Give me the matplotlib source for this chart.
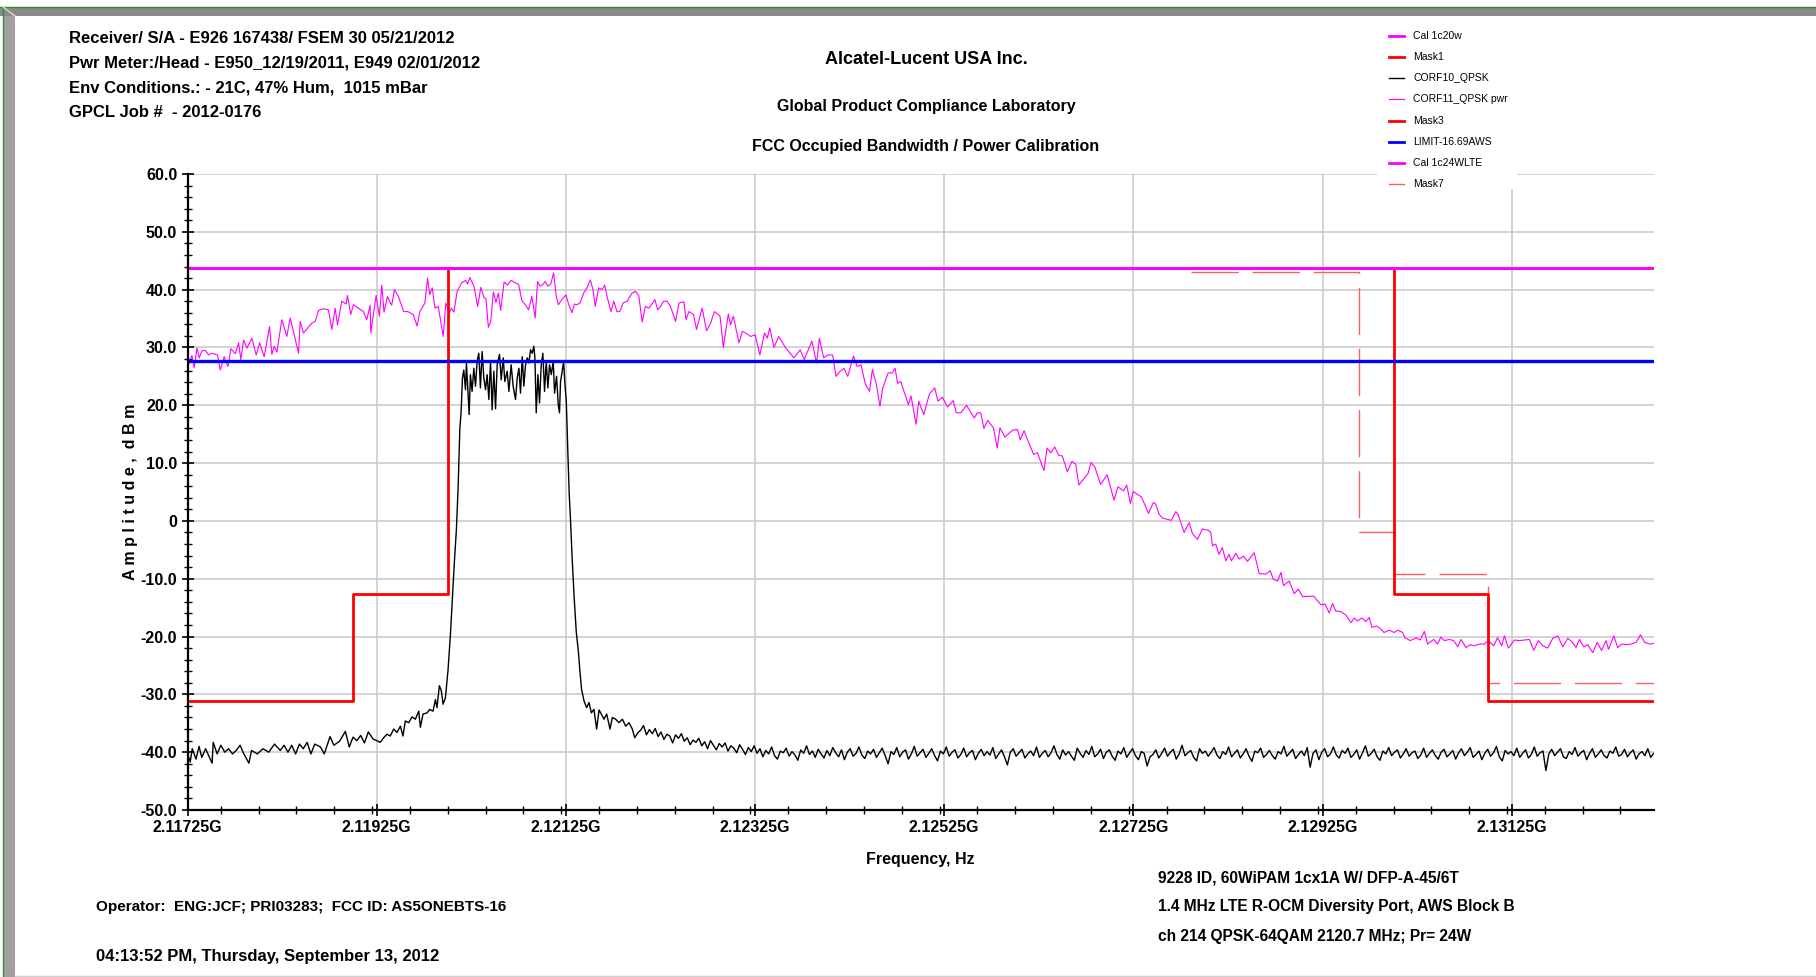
import numpy as np
import matplotlib
matplotlib.use("Agg")
import matplotlib.pyplot as plt
from matplotlib.ticker import MultipleLocator, FixedLocator, FuncFormatter
from matplotlib.patches import Rectangle
from matplotlib.lines import Line2D
from matplotlib import font_manager as fm

# ---------------------------------------------------------------- data ----
# Reference levels (dBm)
cal_20w_dbm = 43.8
cal_24w_lte_dbm = 43.8
limit_aws_dbm = 27.6

# Emission masks (frequency in MHz, level in dBm)
mask1_mhz = [2117.25, 2119.0, 2119.0, 2120.0, 2120.0, 2125.0]
mask1_dbm = [-31.1, -31.1, -12.7, -12.7, 43.8, 43.8]
mask3_mhz = [2125.0, 2130.0, 2130.0, 2131.0, 2131.0, 2132.75]
mask3_dbm = [43.8, 43.8, -12.7, -12.7, -31.1, -31.1]
mask7_mhz = [2127.86, 2129.64, 2129.64, 2130.0, 2130.0, 2131.0, 2131.0, 2132.75]
mask7_dbm = [43.0, 43.0, -2.0, -2.0, -9.1, -9.1, -28.1, -28.1]

# CORF11_QPSK pwr trace (MHz, dBm)
pwr_mhz = [
    2117.250, 2117.278, 2117.296, 2117.320, 2117.349, 2117.373, 2117.401, 2117.437, 2117.472, 2117.507,
    2117.567, 2117.595, 2117.637, 2117.676, 2117.708, 2117.754, 2117.789, 2117.813, 2117.842, 2117.877,
    2117.930, 2117.975, 2118.011, 2118.060, 2118.116, 2118.141, 2118.165, 2118.194, 2118.246, 2118.299,
    2118.335, 2118.423, 2118.440, 2118.475, 2118.563, 2118.599, 2118.634, 2118.680, 2118.739, 2118.775,
    2118.810, 2118.835, 2118.880, 2118.926, 2118.940, 2118.975, 2119.004, 2119.056, 2119.109, 2119.144,
    2119.180, 2119.187, 2119.243, 2119.278, 2119.303, 2119.327, 2119.363, 2119.408, 2119.437, 2119.479,
    2119.535, 2119.580, 2119.635, 2119.677, 2119.706, 2119.759, 2119.787, 2119.810, 2119.837, 2119.865,
    2119.900, 2119.953, 2119.980, 2120.017, 2120.040, 2120.065, 2120.100, 2120.148, 2120.190, 2120.210,
    2120.235, 2120.277, 2120.317, 2120.350, 2120.384, 2120.405, 2120.430, 2120.455, 2120.483, 2120.510,
    2120.536, 2120.560, 2120.596, 2120.632, 2120.670, 2120.713, 2120.750, 2120.784, 2120.820, 2120.855,
    2120.890, 2120.925, 2120.950, 2120.978, 2121.007, 2121.030, 2121.060, 2121.090, 2121.120, 2121.148,
    2121.170, 2121.208, 2121.250, 2121.280, 2121.314, 2121.340, 2121.367, 2121.400, 2121.437, 2121.473,
    2121.508, 2121.536, 2121.560, 2121.596, 2121.632, 2121.660, 2121.685, 2121.727, 2121.756, 2121.790,
    2121.820, 2121.855, 2121.897, 2121.950, 2121.985, 2122.020, 2122.056, 2122.090, 2122.126, 2122.155,
    2122.190, 2122.220, 2122.250, 2122.285, 2122.320, 2122.355, 2122.410, 2122.445, 2122.497, 2122.520,
    2122.550, 2122.600, 2122.630, 2122.690, 2122.737, 2122.780, 2122.820, 2122.880, 2122.914, 2122.967,
    2122.990, 2123.020, 2123.080, 2123.116, 2123.150, 2123.204, 2123.250, 2123.300, 2123.350, 2123.380,
    2123.405, 2123.450, 2123.500, 2123.575, 2123.660, 2123.727, 2123.770, 2123.850, 2123.900, 2123.930,
    2123.975, 2124.020, 2124.070, 2124.105, 2124.150, 2124.190, 2124.230, 2124.290, 2124.330, 2124.370,
    2124.415, 2124.460, 2124.490, 2124.530, 2124.570, 2124.600, 2124.657, 2124.700, 2124.730, 2124.757,
    2124.790, 2124.871, 2124.899, 2124.952, 2124.980, 2125.033, 2125.094, 2125.150, 2125.183, 2125.231,
    2125.284, 2125.345, 2125.377, 2125.426, 2125.486, 2125.567, 2125.600, 2125.636, 2125.669, 2125.709,
    2125.770, 2125.810, 2125.839, 2125.891, 2125.972, 2126.025, 2126.053, 2126.094, 2126.134, 2126.195,
    2126.235, 2126.304, 2126.337, 2126.377, 2126.418, 2126.458, 2126.499, 2126.551, 2126.600, 2126.640,
    2126.673, 2126.721, 2126.770, 2126.802, 2126.843, 2126.903, 2126.972, 2127.045, 2127.086, 2127.146,
    2127.179, 2127.219, 2127.248, 2127.337, 2127.409, 2127.462, 2127.486, 2127.520, 2127.557, 2127.603,
    2127.650, 2127.698, 2127.720, 2127.786, 2127.840, 2127.874, 2127.927, 2127.980, 2128.040, 2128.068,
    2128.086, 2128.120, 2128.156, 2128.190, 2128.227, 2128.260, 2128.287, 2128.333, 2128.367, 2128.414,
    2128.456, 2128.527, 2128.580, 2128.650, 2128.696, 2128.730, 2128.774, 2128.810, 2128.837, 2128.897,
    2128.950, 2128.993, 2129.040, 2129.155, 2129.232, 2129.275, 2129.320, 2129.356, 2129.390, 2129.444,
    2129.497, 2129.550, 2129.585, 2129.620, 2129.663, 2129.709, 2129.744, 2129.770, 2129.825, 2129.860,
    2129.900, 2129.955, 2130.008, 2130.044, 2130.097, 2130.120, 2130.178, 2130.238, 2130.283, 2130.326,
    2130.360, 2130.425, 2130.466, 2130.500, 2130.537, 2130.590, 2130.636, 2130.680, 2130.713, 2130.767,
    2130.813, 2130.848, 2130.908, 2130.960, 2131.003, 2131.060, 2131.100, 2131.144, 2131.172, 2131.215,
    2131.278, 2131.330, 2131.384, 2131.437, 2131.483, 2131.532, 2131.578, 2131.630, 2131.684, 2131.737,
    2131.790, 2131.843, 2131.885, 2131.930, 2131.966, 2132.012, 2132.054, 2132.107, 2132.153, 2132.200,
    2132.248, 2132.273, 2132.330, 2132.370, 2132.414, 2132.460, 2132.513, 2132.566, 2132.612, 2132.655,
    2132.707, 2132.750,
]
pwr_dbm = [
    26.5, 27.9, 28.6, 26.5, 29.9, 28.2, 29.4, 29.5, 28.7, 29.0,
    28.7, 26.1, 28.4, 26.7, 29.8, 28.9, 30.8, 27.9, 31.3, 29.9,
    31.6, 28.7, 30.8, 28.4, 33.6, 28.8, 30.2, 29.2, 34.8, 31.9,
    35.1, 29.0, 34.5, 32.5, 34.2, 34.5, 36.4, 36.7, 36.5, 33.1,
    36.8, 33.9, 38.0, 37.5, 39.0, 35.7, 37.4, 36.8, 36.2, 34.8,
    37.3, 32.5, 39.0, 35.4, 40.8, 36.1, 38.8, 37.3, 40.0, 38.8,
    36.2, 36.2, 35.7, 33.7, 36.2, 37.7, 42.0, 39.1, 40.3, 36.8,
    37.1, 31.9, 37.7, 36.0, 36.8, 36.1, 39.7, 41.2, 41.6, 41.0,
    42.1, 40.6, 37.1, 40.4, 38.6, 38.4, 33.5, 34.5, 39.6, 37.8,
    39.4, 36.4, 41.3, 40.8, 41.6, 41.2, 40.9, 38.1, 37.4, 36.5,
    38.8, 35.1, 41.4, 40.6, 40.9, 41.4, 40.6, 41.0, 42.9, 38.8,
    37.4, 38.3, 39.1, 37.4, 36.0, 37.5, 37.4, 37.7, 39.4, 40.3,
    41.7, 40.0, 37.1, 40.3, 40.0, 40.8, 38.8, 36.2, 38.0, 36.2,
    36.2, 37.7, 38.0, 39.4, 39.7, 39.0, 34.4, 37.1, 36.8, 37.4,
    38.3, 36.5, 37.1, 38.0, 38.0, 37.1, 34.5, 37.7, 37.9, 34.8,
    36.2, 35.7, 33.1, 36.8, 32.9, 34.2, 36.2, 35.4, 30.0, 35.8,
    33.9, 35.4, 30.8, 32.8, 32.5, 31.9, 32.2, 28.7, 32.5, 31.6,
    33.4, 30.0, 31.9, 29.9, 28.2, 29.6, 27.9, 31.1, 27.3, 31.6,
    28.2, 28.7, 28.7, 25.0, 25.9, 26.4, 25.0, 28.5, 26.7, 27.0,
    23.7, 22.4, 26.2, 23.8, 19.8, 23.0, 25.6, 25.6, 26.4, 23.8,
    24.1, 20.1, 21.6, 16.7, 20.7, 18.4, 22.0, 23.0, 20.7, 21.4,
    19.7, 20.8, 18.7, 18.7, 20.0, 17.8, 18.7, 18.7, 16.0, 17.4,
    16.1, 12.6, 16.1, 14.5, 15.7, 15.8, 14.0, 15.6, 13.9, 11.5,
    11.8, 8.7, 12.6, 11.8, 12.8, 11.4, 11.2, 8.5, 10.3, 9.8,
    6.2, 7.2, 8.2, 10.1, 9.3, 6.3, 8.0, 3.6, 5.9, 5.2,
    6.2, 3.0, 5.1, 4.1, 1.3, 3.2, 2.9, 1.2, 0.5, 0.3,
    0.1, 1.6, 1.2, -2.0, -0.3, -2.2, -3.2, -1.4, -1.6, -2.0,
    -4.3, -4.0, -5.8, -4.6, -6.9, -5.8, -6.9, -5.6, -6.6, -6.1,
    -7.0, -5.5, -9.1, -9.2, -8.6, -10.1, -10.4, -8.9, -11.2, -10.4,
    -12.6, -11.8, -13.1, -13.0, -14.5, -14.4, -15.9, -14.3, -15.6, -15.7,
    -16.3, -17.6, -16.8, -17.3, -16.8, -17.4, -16.7, -18.4, -18.2, -18.6,
    -19.3, -18.9, -19.3, -18.9, -19.3, -20.2, -20.7, -20.2, -20.6, -19.1,
    -21.3, -20.5, -21.3, -20.1, -20.7, -20.5, -20.7, -21.8, -20.5, -21.9,
    -21.4, -21.6, -21.3, -21.3, -20.7, -21.6, -20.2, -21.6, -19.9, -22.0,
    -20.6, -20.7, -20.6, -20.5, -22.4, -20.7, -21.6, -22.0, -20.3, -19.9,
    -21.8, -20.3, -20.9, -21.9, -20.5, -21.8, -21.4, -22.8, -21.0, -22.4,
    -20.7, -22.2, -19.9, -21.9, -21.3, -21.4, -21.3, -21.0, -19.7, -21.0,
    -21.3, -21.2,
]

# CORF10_QPSK trace, carrier region (MHz, dBm)
qpsk_mhz = [
    2117.250, 2117.278, 2117.299, 2117.339, 2117.371, 2117.400, 2117.440, 2117.473, 2117.509, 2117.521,
    2117.562, 2117.602, 2117.643, 2117.683, 2117.724, 2117.764, 2117.805, 2117.845, 2117.898, 2117.926,
    2117.987, 2118.048, 2118.108, 2118.169, 2118.230, 2118.270, 2118.311, 2118.351, 2118.392, 2118.432,
    2118.473, 2118.513, 2118.554, 2118.594, 2118.655, 2118.695, 2118.756, 2118.797, 2118.857, 2118.918,
    2118.959, 2118.999, 2119.039, 2119.080, 2119.120, 2119.161, 2119.210, 2119.287, 2119.323, 2119.358,
    2119.393, 2119.429, 2119.464, 2119.500, 2119.527, 2119.552, 2119.587, 2119.623, 2119.658, 2119.694,
    2119.711, 2119.739, 2119.782, 2119.810, 2119.845, 2119.870, 2119.887, 2119.912, 2119.933, 2119.951,
    2119.976, 2120.004, 2120.029, 2120.046, 2120.071, 2120.092, 2120.110, 2120.128, 2120.142, 2120.156,
    2120.170, 2120.188, 2120.198, 2120.212, 2120.227, 2120.240, 2120.258, 2120.276, 2120.294, 2120.311,
    2120.329, 2120.346, 2120.364, 2120.382, 2120.400, 2120.417, 2120.435, 2120.453, 2120.470, 2120.488,
    2120.506, 2120.523, 2120.548, 2120.566, 2120.587, 2120.604, 2120.629, 2120.647, 2120.671, 2120.692,
    2120.717, 2120.735, 2120.753, 2120.770, 2120.788, 2120.805, 2120.823, 2120.841, 2120.858, 2120.876,
    2120.894, 2120.911, 2120.922, 2120.936, 2120.954, 2120.971, 2120.989, 2121.006, 2121.024, 2121.042,
    2121.059, 2121.077, 2121.095, 2121.116, 2121.130, 2121.151, 2121.169, 2121.182, 2121.193, 2121.211,
    2121.225, 2121.239, 2121.254, 2121.271, 2121.285, 2121.299, 2121.314, 2121.335, 2121.359, 2121.381,
    2121.398, 2121.415, 2121.441, 2121.469, 2121.494, 2121.519, 2121.546, 2121.575, 2121.600, 2121.624,
    2121.652, 2121.681, 2121.716, 2121.741, 2121.776, 2121.811, 2121.847, 2121.882, 2121.917, 2121.952,
    2121.977, 2122.012,
]
qpsk_dbm = [
    -40.3, -41.7, -39.4, -41.2, -39.0, -40.9, -39.4, -40.6, -41.9, -38.3,
    -40.3, -38.8, -40.0, -39.4, -40.3, -39.7, -38.8, -40.3, -41.9, -39.7,
    -40.3, -39.4, -40.0, -38.6, -39.7, -38.8, -40.0, -38.8, -40.3, -38.6,
    -39.4, -38.3, -40.3, -38.6, -39.1, -40.3, -37.3, -38.8, -38.1, -36.4,
    -39.1, -37.4, -38.0, -37.1, -38.4, -36.5, -37.7, -38.3, -37.5, -36.9,
    -37.2, -36.0, -36.6, -35.5, -37.2, -34.6, -34.9, -33.9, -34.3, -32.9,
    -35.7, -33.4, -33.2, -32.6, -32.9, -30.9, -32.3, -28.5, -29.4, -31.7,
    -30.6, -25.7, -19.6, -14.4, -7.0, -1.5, 5.7, 15.8, 18.9, 24.7,
    26.1, 22.7, 27.3, 23.0, 18.4, 25.3, 22.4, 26.4, 23.3, 27.6,
    29.0, 23.0, 29.3, 24.7, 22.7, 25.3, 21.0, 27.6, 19.2, 25.9,
    19.4, 27.0, 28.8, 24.4, 28.2, 24.1, 25.9, 22.4, 27.0, 23.3,
    21.0, 24.7, 26.4, 22.1, 28.4, 23.3, 27.0, 28.2, 27.3, 29.6,
    29.0, 30.2, 28.2, 18.7, 25.3, 20.4, 27.0, 29.0, 22.4, 27.6,
    23.0, 27.0, 25.3, 27.6, 22.1, 25.0, 20.1, 18.7, 24.1, 25.9,
    27.6, 23.8, 20.7, 11.5, 4.6, 0.0, -5.8, -12.7, -19.1, -22.5,
    -26.0, -29.1, -31.1, -32.3, -31.4, -33.2, -32.6, -36.0, -32.7, -33.4,
    -34.3, -33.4, -36.0, -34.0, -34.3, -34.9, -34.3, -35.5, -34.9, -36.0,
    -37.5, -36.6,
]

# CORF10_QPSK trace, upper noise floor sweep (dBm), 2122.04 .. 2132.75 MHz
floor_start_mhz = 2122.04
floor_stop_mhz = 2132.75
floor_dbm = [
    -36.2, -35.4, -37.0, -36.1, -36.8, -35.9, -37.3, -36.5, -37.8, -36.9, -37.2, -38.4, -37.0, -37.6, -36.8, -38.1, -37.5, -38.7, -37.9, -38.3,
    -37.6, -38.9, -38.2, -39.4, -38.0, -38.8, -39.6, -38.5, -39.1, -38.4, -39.8, -38.9, -39.3, -40.1, -38.7, -39.5, -40.4, -39.2, -39.9, -38.9,
    -40.2, -39.4, -40.8, -39.7, -40.3, -39.1, -40.6, -41.2, -39.8, -40.1, -39.3, -40.7, -39.9, -40.5, -41.4, -39.6, -40.2, -38.9, -40.4, -39.8,
    -40.9, -39.5, -40.3, -41.0, -39.7, -40.6, -39.2, -40.1, -40.8, -39.6, -41.3, -40.0, -39.4, -40.7, -40.2, -39.1, -40.5, -41.1, -39.8, -40.3,
    -39.5, -40.9, -40.1, -39.3, -40.6, -42.0, -39.9, -40.4, -39.2, -40.8, -40.0, -39.6, -41.2, -40.3, -39.0, -40.7, -40.1, -39.5, -40.9, -40.2,
    -39.4, -40.6, -41.5, -39.8, -40.3, -39.1, -40.7, -40.0, -39.6, -41.0, -40.4, -39.3, -40.8, -40.1, -39.7, -41.3, -40.2, -39.5, -40.6, -39.9,
    -40.5, -39.2, -41.1, -40.3, -39.6, -40.8, -42.2, -40.0, -39.4, -40.7, -40.1, -39.5, -41.0, -40.3, -39.8, -40.6, -39.1, -40.9, -40.2, -39.7,
    -40.8, -40.1, -38.9, -40.4, -41.2, -39.6, -40.5, -39.9, -40.7, -41.4, -39.3, -40.2, -40.9, -39.7, -40.4, -39.0, -40.8, -40.3, -39.5, -41.1,
    -40.0, -39.6, -40.7, -41.4, -39.8, -40.3, -39.2, -40.9, -40.1, -39.4, -40.6, -41.3, -39.9, -40.2, -42.4, -40.8, -40.4, -39.6, -41.0, -40.2,
    -39.3, -40.7, -40.0, -39.5, -41.2, -40.3, -38.8, -40.6, -40.1, -39.7, -40.9, -41.5, -39.4, -40.2, -39.8, -40.7, -40.0, -39.2, -40.5, -41.1,
    -39.9, -40.4, -39.1, -40.8, -40.2, -39.6, -41.0, -40.3, -39.4, -40.7, -41.6, -39.8, -40.1, -39.3, -40.9, -40.4, -39.7, -40.6, -41.2, -39.9,
    -40.3, -39.0, -40.7, -40.1, -39.5, -41.1, -40.4, -39.8, -40.6, -39.2, -42.6, -40.2, -39.6, -41.3, -40.0, -39.4, -40.8, -40.3, -39.1, -40.5,
    -41.0, -39.7, -40.2, -39.3, -40.9, -40.4, -39.6, -41.2, -40.1, -38.9, -40.7, -40.2, -39.5, -40.8, -41.4, -39.8, -40.3, -39.2, -40.6, -40.0,
    -39.6, -41.0, -40.3, -39.4, -40.7, -40.1, -39.8, -41.1, -40.5, -39.3, -40.9, -40.2, -39.6, -40.6, -41.2, -40.0, -39.5, -40.8, -40.3, -39.7,
    -41.2, -40.1, -39.4, -40.6, -40.0, -39.2, -40.9, -40.4, -39.8, -41.3, -40.2, -39.5, -40.7, -40.1, -39.0, -40.8, -41.5, -39.7, -40.3, -39.9,
    -40.6, -39.3, -40.9, -40.2, -39.6, -41.0, -40.4, -39.1, -40.7, -40.1, -39.8, -43.2, -40.3, -39.5, -40.6, -40.0, -39.4, -40.8, -41.1, -39.9,
    -40.4, -39.2, -40.7, -40.1, -39.7, -41.3, -40.2, -39.4, -40.9, -40.3, -39.6, -40.6, -41.0, -39.8, -40.2, -39.1, -40.7, -40.4, -39.5, -40.8,
    -40.1, -39.6, -41.2, -40.3, -39.9, -40.6, -39.4, -40.9, -40.2,
]

x_tick_mhz = [2117.25, 2119.25, 2121.25, 2123.25, 2125.25, 2127.25, 2129.25, 2131.25]

header_lines = [
    "Receiver/ S/A - E926 167438/ FSEM 30 05/21/2012",
    "Pwr Meter:/Head - E950_12/19/2011, E949 02/01/2012",
    "Env Conditions.: - 21C, 47% Hum,  1015 mBar",
    "GPCL Job #  - 2012-0176",
]
title_lines = [
    "Alcatel-Lucent USA Inc.",
    "Global Product Compliance Laboratory",
    "FCC Occupied Bandwidth / Power Calibration",
]
setup_lines = [
    "9228 ID, 60WiPAM 1cx1A W/ DFP-A-45/6T",
    "1.4 MHz LTE R-OCM Diversity Port, AWS Block B",
    "ch 214 QPSK-64QAM 2120.7 MHz; Pr= 24W",
]
operator_line = "Operator:  ENG:JCF; PRI03283;  FCC ID: AS5ONEBTS-16"
stamp_line = "04:13:52 PM, Thursday, September 13, 2012"

# --------------------------------------------------------------- figure ---
W, H = 1816, 977
plt.rcParams["font.family"] = ["Liberation Sans", "DejaVu Sans"]
installed = {f.name for f in fm.fontManager.ttflist}
small_family = ["Liberation Sans Narrow", "Liberation Sans"] if "Liberation Sans Narrow" in installed else ["Liberation Sans"]

fig = plt.figure(figsize=(W / 100, H / 100), dpi=100)
fig.patch.set_facecolor("white")


def fx(px):
    return px / W


def fy(py):
    return 1 - py / H


# window border: grey bars on top and left, thin green edge, light bottom rule
fig.add_artist(Rectangle((fx(0), fy(16)), 1, 9 / H, transform=fig.transFigure,
                         facecolor="#8a8a8a", edgecolor="none", zorder=1))
fig.add_artist(Rectangle((fx(3), fy(H)), 12 / W, 1 - 16 / H, transform=fig.transFigure,
                         facecolor="#a0a0a0", edgecolor="none", zorder=1))
fig.add_artist(Line2D([0, 1], [fy(6.5), fy(6.5)], transform=fig.transFigure,
                      color="#2f8f2f", lw=1.0, zorder=2))
fig.add_artist(Line2D([fx(3), fx(3)], [fy(6.5), 0], transform=fig.transFigure,
                      color="#2f8f2f", lw=1.0, zorder=2))
fig.add_artist(Line2D([fx(3), fx(15)], [fy(7), fy(16)], transform=fig.transFigure,
                      color="#d8d8d8", lw=1.0, zorder=2))
fig.add_artist(Line2D([fx(15), 1], [fy(975.5), fy(975.5)], transform=fig.transFigure,
                      color="#d0d0d0", lw=1.0, zorder=2))

ax = fig.add_axes([fx(187.6), fy(810), fx(1653.6) - fx(187.6), fy(174) - fy(810)])
ax.set_xlim(2117.25, 2132.75)
ax.set_ylim(-50, 60)

# grid
ax.grid(True, which="major", color="#c8c8c8", lw=1.1, zorder=0)
ax.set_axisbelow(True)

# traces
qpsk_f = np.concatenate([qpsk_mhz, np.linspace(floor_start_mhz, floor_stop_mhz, len(floor_dbm))])
qpsk_y = np.concatenate([qpsk_dbm, floor_dbm])
l_qpsk, = ax.plot(qpsk_f, qpsk_y, color="black", lw=1.0, zorder=3, label="CORF10_QPSK")
l_pwr, = ax.plot(pwr_mhz, pwr_dbm, color="#ff00ff", lw=0.8, zorder=3, label="CORF11_QPSK pwr")

# masks and limit lines
l_m7, = ax.plot(mask7_mhz, mask7_dbm, color="#ff5c5c", lw=1.0, dashes=(34, 10), zorder=4, label="Mask7")
l_m1, = ax.plot(mask1_mhz, mask1_dbm, color="#ff0000", lw=2.0, zorder=5, label="Mask1")
l_m3, = ax.plot(mask3_mhz, mask3_dbm, color="#ff0000", lw=2.0, zorder=5, label="Mask3")
l_lim = ax.axhline(limit_aws_dbm, color="#0000ff", lw=2.4, zorder=6, label="LIMIT-16.69AWS")
l_c20 = ax.axhline(cal_20w_dbm, color="#ff00ff", lw=2.0, zorder=6, label="Cal 1c20w")
l_c24 = ax.axhline(cal_24w_lte_dbm, color="#ff00ff", lw=2.0, zorder=6, label="Cal 1c24WLTE")

# axes styling
for side in ("top", "right"):
    ax.spines[side].set_visible(False)
for side in ("left", "bottom"):
    ax.spines[side].set_linewidth(1.6)
    ax.spines[side].set_zorder(7)

ax.xaxis.set_major_locator(FixedLocator(x_tick_mhz))
ax.xaxis.set_minor_locator(MultipleLocator(0.4))
ax.xaxis.set_major_formatter(FuncFormatter(lambda v, p: f"{v / 1000:.5f}G"))
ax.yaxis.set_major_locator(MultipleLocator(10))
ax.yaxis.set_minor_locator(MultipleLocator(2))
ax.yaxis.set_major_formatter(FuncFormatter(lambda v, p: "0" if abs(v) < 1e-9 else f"{v:.1f}"))

ax.tick_params(axis="both", which="major", direction="inout", length=9, width=1.2, colors="black",
               labelsize=11.5, pad=3)
ax.tick_params(axis="both", which="minor", direction="inout", length=6, width=1.0, colors="black")
for lab in ax.get_xticklabels() + ax.get_yticklabels():
    lab.set_fontweight("bold")

ax.set_xlabel("Frequency, Hz", fontsize=11.5, fontweight="bold", labelpad=12)
ax.set_ylabel("A m p l i t u d e ,  d B m", fontsize=11.5, fontweight="bold", labelpad=2)

# header and footer text
for i, s in enumerate(header_lines):
    fig.text(fx(69), fy(38.5 + i * 24.6), s, fontsize=12, fontweight="bold", va="center", ha="left")
for s, yy, fs in zip(title_lines, (59, 106.5, 146), (13, 11.5, 11.5)):
    fig.text(fx(926), fy(yy), s, fontsize=fs, fontweight="bold", va="center", ha="center")
for i, s in enumerate(setup_lines):
    fig.text(fx(1158), fy(878 + i * 29), s, fontsize=11.2, fontweight="bold", va="center", ha="left")
fig.text(fx(96), fy(907), operator_line, fontsize=11, fontweight="bold", va="center", ha="left")
fig.text(fx(96), fy(957), stamp_line, fontsize=12, fontweight="bold", va="center", ha="left")

# legend panel drawn over the top right of the plot area
fig.add_artist(Rectangle((fx(1377), fy(189)), fx(1517) - fx(1377), fy(20) - fy(189),
                         transform=fig.transFigure, facecolor="white", edgecolor="none", zorder=8))
legend_items = [l_c20, l_m1, l_qpsk, l_pwr, l_m3, l_lim, l_c24, l_m7]
for i, h in enumerate(legend_items):
    yy = fy(36 + i * 21.15)
    fig.add_artist(Line2D([fx(1389), fx(1404)], [yy, yy], transform=fig.transFigure,
                          color=h.get_color(), lw=min(h.get_linewidth(), 2.0), zorder=9))
    fig.text(fx(1413), yy, h.get_label(), fontsize=7.5, family=small_family,
             va="center", ha="left", zorder=9)

fig.savefig("out.png", dpi=100, facecolor="white")
